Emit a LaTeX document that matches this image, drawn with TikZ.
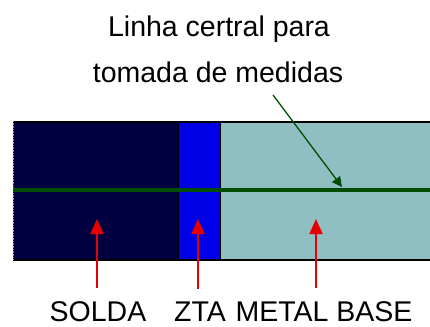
\documentclass[tikz,border=0pt]{standalone}
\usepackage{fontspec}
\setmainfont{Liberation Sans}
\usetikzlibrary{arrows.meta}
\definecolor{weldnavy}{HTML}{000040}
\definecolor{hazblue}{HTML}{0000E6}
\definecolor{basecyan}{HTML}{8FBFC2}
\definecolor{lindgreen}{HTML}{004D00}
\definecolor{ptred}{HTML}{E60000}

\begin{document}
\begin{tikzpicture}[x=1pt, y=-1pt,
  edge/.style={black, line width=2pt},
  divider/.style={black, line width=1.5pt},
  centreline/.style={lindgreen, line width=4pt},
  pointer/.style={-{Triangle[length=15pt, width=13pt]}, ptred, line width=2pt, shorten <=13pt},
  leader/.style={-{Triangle[length=10pt, width=10pt]}, lindgreen, line width=1.3pt},
  label/.style={font=\fontsize{28.5}{32}\selectfont, anchor=base, inner sep=0pt},
]
\useasboundingbox (0,0) rectangle (430,326);

% ===== Zones of the joint =====
\fill[weldnavy] (13,121) rectangle (178,260);
\fill[hazblue] (178,121) rectangle (220,260);
\fill[basecyan] (220,121) rectangle (430,260);

% Borders
\draw[edge] (13,121.5) -- (430,121.5);
\draw[edge, line width=2.5pt] (13,260) -- (430,260);
\draw[gray, line width=0.6pt, densely dotted] (13,121) -- (13,260);
\draw[divider] (178,121) -- (178,260);
\draw[divider] (220.5,121) -- (220.5,260);

% Centre line
\draw[centreline] (13,190) -- (430,190);

% ===== Labels =====
\node[label] (title1) at (219,37) {Linha certral para};
\node[label] (title2) at (218,83) {tomada de medidas};
\node[label] (solda) at (98,321.5) {SOLDA};
\node[label] (zta) at (200,321.5) {ZTA};
\node[label] (base) at (324,321.5) {METAL BASE};

% Arrow tips
\coordinate (leadfoot) at (273,95);
\coordinate (leadtip) at (342,187);
\coordinate (soldatip) at (97,219);
\coordinate (ztatip) at (198,219);
\coordinate (basetip) at (316,219);

% ===== Arrows =====
\draw[leader] (leadfoot) -- (leadtip);
\draw[pointer] (soldatip |- solda.north) -- (soldatip);
\draw[pointer] (ztatip |- zta.north) -- (ztatip);
\draw[pointer] (basetip |- base.north) -- (basetip);

\end{tikzpicture}
\end{document}
